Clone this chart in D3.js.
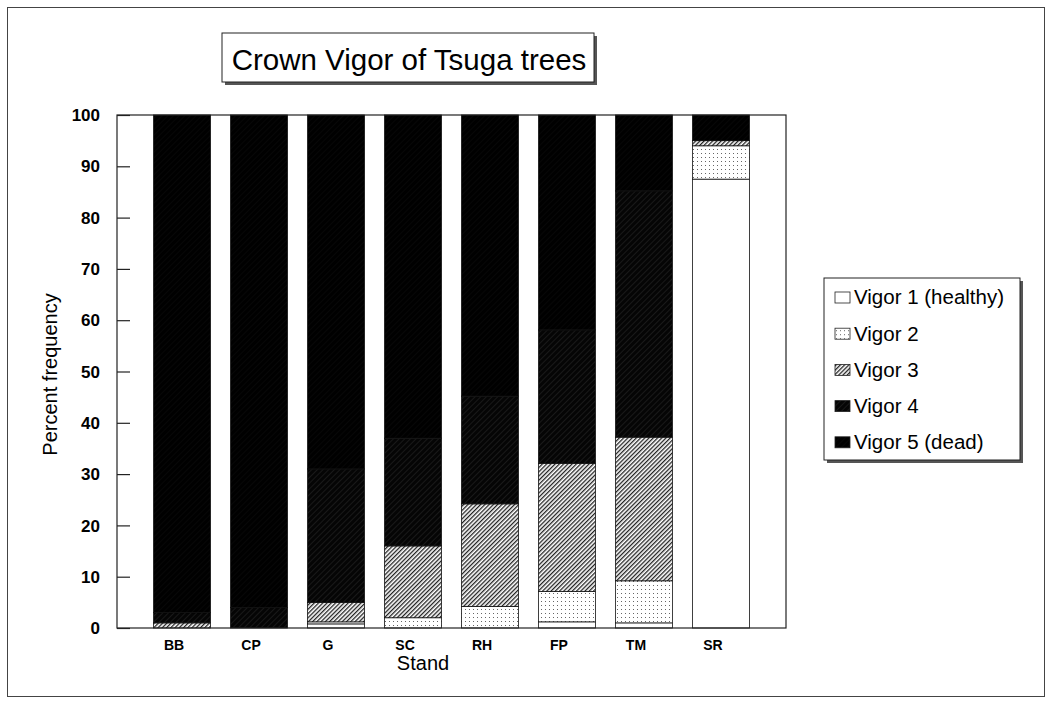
<!DOCTYPE html>
<html lang="en">
<head>
    <meta charset="UTF-8">
    <title>Crown Vigor of Tsuga trees</title>
    <script src="https://d3js.org/d3.v7.min.js"></script>
    <style>
        body { margin: 0; background: #fff; }
        svg { font-family: "Liberation Sans", Arial, sans-serif; }
    </style>
</head>
<body>

<div id="chart"></div>

<script>
    // Stands and percent frequency of each vigor class
    const stands = ["BB", "CP", "G", "SC", "RH", "FP", "TM", "SR"];
    const vigorLabels = ["Vigor 1 (healthy)", "Vigor 2", "Vigor 3", "Vigor 4", "Vigor 5 (dead)"];
    const vigor1 = [0, 0, 0.8, 0, 0, 1.2, 1, 87.5];
    const vigor2 = [0, 0, 0.4, 2, 4.2, 5.9, 8.2, 6.5];
    const vigor3 = [1, 0, 3.8, 14, 20, 25, 28, 1];
    const vigor4 = [2, 4, 26, 21, 21, 26, 48, 0];
    const vigor5 = [97, 96, 69, 63, 54.8, 41.9, 14.8, 5];
    const yTicks = [0, 10, 20, 30, 40, 50, 60, 70, 80, 90, 100];

    const series = [vigor1, vigor2, vigor3, vigor4, vigor5];
    const keys = ["v1", "v2", "v3", "v4", "v5"];
    const table = stands.map((s, i) => {
        const row = { stand: s };
        keys.forEach((k, j) => row[k] = series[j][i]);
        return row;
    });

    const width = 1052, height = 704;
    const plot = { left: 117, right: 786, top: 115, bottom: 628 };

    const svg = d3.select("#chart").append("svg")
        .attr("width", width)
        .attr("height", height);

    // Fill patterns for the vigor classes
    const defs = svg.append("defs");

    const dots = defs.append("pattern").attr("id", "p2")
        .attr("patternUnits", "userSpaceOnUse").attr("width", 4).attr("height", 4);
    dots.append("rect").attr("width", 4).attr("height", 4).attr("fill", "#fff");
    dots.append("rect").attr("x", 1).attr("y", 1).attr("width", 1).attr("height", 1).attr("fill", "#666");

    const hatch = defs.append("pattern").attr("id", "p3")
        .attr("patternUnits", "userSpaceOnUse").attr("width", 3).attr("height", 3)
        .attr("patternTransform", "rotate(45)");
    hatch.append("rect").attr("width", 3).attr("height", 3).attr("fill", "#fff");
    hatch.append("rect").attr("width", 1.3).attr("height", 3).attr("fill", "#222");

    const dark4 = defs.append("pattern").attr("id", "p4")
        .attr("patternUnits", "userSpaceOnUse").attr("width", 4).attr("height", 4)
        .attr("patternTransform", "rotate(45)");
    dark4.append("rect").attr("width", 4).attr("height", 4).attr("fill", "#050505");
    dark4.append("rect").attr("width", 0.6).attr("height", 4).attr("fill", "#262626");

    const dark5 = defs.append("pattern").attr("id", "p5")
        .attr("patternUnits", "userSpaceOnUse").attr("width", 4).attr("height", 4)
        .attr("patternTransform", "rotate(45)");
    dark5.append("rect").attr("width", 4).attr("height", 4).attr("fill", "#000");
    dark5.append("rect").attr("width", 0.4).attr("height", 4).attr("fill", "#111");

    const fills = ["#fff", "url(#p2)", "url(#p3)", "url(#p4)", "url(#p5)"];
    const color = d3.scaleOrdinal().domain(keys).range(fills);

    // Outer frame
    svg.append("rect")
        .attr("x", 7.5).attr("y", 7.5)
        .attr("width", 1037).attr("height", 689)
        .attr("fill", "none").attr("stroke", "#444").attr("stroke-width", 1);

    // Scales
    const x = d3.scaleBand()
        .domain(stands)
        .range([plot.left, plot.right])
        .paddingInner(0.26)
        .paddingOuter(0.475);

    const y = d3.scaleLinear()
        .domain([0, 100])
        .range([plot.bottom, plot.top]);

    // Stacked bars
    const stack = d3.stack().keys(keys);
    svg.append("g").selectAll("g")
        .data(stack(table))
        .join("g")
        .attr("fill", d => color(d.key))
        .selectAll("rect")
        .data(d => d)
        .join("rect")
        .attr("x", d => x(d.data.stand))
        .attr("y", d => y(d[1]))
        .attr("width", x.bandwidth())
        .attr("height", d => y(d[0]) - y(d[1]))
        .attr("stroke", "#111")
        .attr("stroke-width", 0.8);

    // Plot border
    svg.append("rect")
        .attr("x", plot.left).attr("y", plot.top)
        .attr("width", plot.right - plot.left).attr("height", plot.bottom - plot.top)
        .attr("fill", "none").attr("stroke", "#222").attr("stroke-width", 1.2);

    // Y axis with inward ticks
    const yAxis = svg.append("g")
        .attr("transform", `translate(${plot.left},0)`)
        .call(d3.axisRight(y).tickValues(yTicks).tickSize(13).tickFormat(""));
    yAxis.select(".domain").remove();
    yAxis.selectAll("line").attr("stroke", "#222").attr("stroke-width", 1.2);

    svg.append("g").selectAll("text")
        .data(yTicks)
        .join("text")
        .attr("x", 100)
        .attr("y", d => y(d))
        .attr("dy", "0.36em")
        .attr("text-anchor", "end")
        .attr("font-size", 17)
        .attr("font-weight", "bold")
        .text(d => d);

    // X axis labels (sit a little left of the bar centres, as in the original)
    const xAxis = svg.append("g")
        .attr("transform", `translate(0,${plot.bottom})`)
        .call(d3.axisBottom(x).tickSize(0).tickPadding(12));
    xAxis.select(".domain").remove();
    xAxis.selectAll("text")
        .attr("dx", -8)
        .attr("font-size", 14)
        .attr("font-weight", "bold")
        .attr("font-family", "Liberation Sans, Arial, sans-serif")
        .attr("fill", "#000");

    svg.append("text")
        .attr("x", 423)
        .attr("y", 670)
        .attr("text-anchor", "middle")
        .attr("font-size", 20)
        .text("Stand");

    svg.append("text")
        .attr("transform", `translate(57,${(plot.top + plot.bottom) / 2 + 3}) rotate(-90)`)
        .attr("text-anchor", "middle")
        .attr("font-size", 20)
        .text("Percent frequency");

    // Title box with shadow
    const title = { x: 222, y: 33, w: 372, h: 49 };
    svg.append("rect")
        .attr("x", title.x + 3).attr("y", title.y + 3)
        .attr("width", title.w).attr("height", title.h)
        .attr("fill", "#555");
    svg.append("rect")
        .attr("x", title.x).attr("y", title.y)
        .attr("width", title.w).attr("height", title.h)
        .attr("fill", "#fff").attr("stroke", "#222").attr("stroke-width", 1);
    svg.append("text")
        .attr("x", title.x + title.w / 2 + 1)
        .attr("y", title.y + 37)
        .attr("text-anchor", "middle")
        .attr("font-size", 29.5)
        .text("Crown Vigor of Tsuga trees");

    // Legend with shadow
    const lg = { x: 824, y: 278, w: 196, h: 182 };
    svg.append("rect")
        .attr("x", lg.x + 3).attr("y", lg.y + 3)
        .attr("width", lg.w).attr("height", lg.h)
        .attr("fill", "#555");
    svg.append("rect")
        .attr("x", lg.x).attr("y", lg.y)
        .attr("width", lg.w).attr("height", lg.h)
        .attr("fill", "#fff").attr("stroke", "#222").attr("stroke-width", 1);

    const items = svg.append("g").selectAll("g")
        .data(keys)
        .join("g")
        .attr("transform", (d, i) => `translate(${lg.x + 11},${lg.y + 19 + i * 36.2})`);
    items.append("rect")
        .attr("x", 0).attr("y", -5)
        .attr("width", 15).attr("height", 11)
        .attr("fill", d => color(d))
        .attr("stroke", "#222").attr("stroke-width", 0.8);
    items.append("text")
        .attr("x", 19)
        .attr("dy", "0.36em")
        .attr("font-size", 20.5)
        .text((d, i) => vigorLabels[i]);
</script>

</body>
</html>
